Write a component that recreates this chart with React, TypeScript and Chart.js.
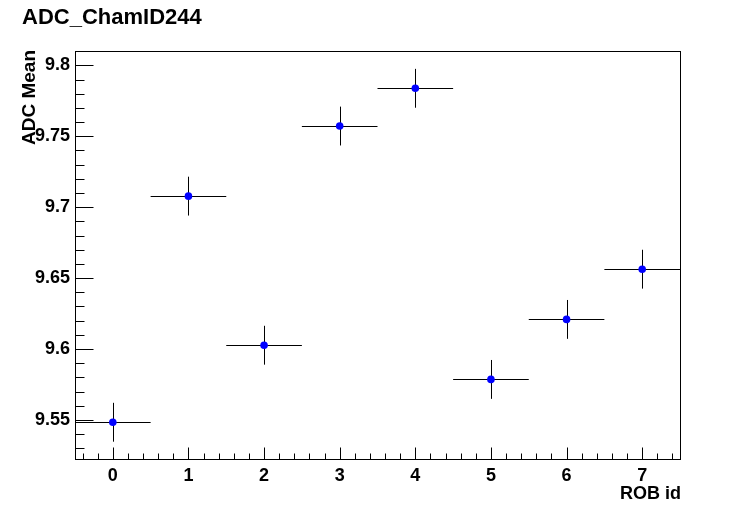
import React, { useEffect, useRef } from 'react';
import { Chart, registerables } from 'chart.js';

Chart.register(...registerables);

// ---- data ----
const robIds = [0, 1, 2, 3, 4, 5, 6, 7];
const adcMean = [9.5484, 9.7078, 9.6027, 9.7572, 9.7838, 9.5786, 9.6209, 9.6563];
const adcErr = [0.0137, 0.0137, 0.0137, 0.0137, 0.0137, 0.0137, 0.0137, 0.0137];
const robHalfWidth = 0.5;

const xTickValues = [0, 1, 2, 3, 4, 5, 6, 7];
const xTickLabels = ['0', '1', '2', '3', '4', '5', '6', '7'];
const yTickValues = [9.55, 9.6, 9.65, 9.7, 9.75, 9.8];
const yTickLabels = ['9.55', '9.6', '9.65', '9.7', '9.75', '9.8'];

const titleText = 'ADC_ChamID244';
const xTitle = 'ROB id';
const yTitle = 'ADC Mean';

const X_MIN = -0.5;
const X_MAX = 7.5;
const Y_MIN = 9.5225;
const Y_MAX = 9.8101;

const FONT = "'Liberation Sans', Arial, Helvetica, sans-serif";

const rootStylePlugin = {
  id: 'rootStyle',
  beforeDatasetsDraw(chart: any) {
    const ctx = chart.ctx;
    const xs = chart.scales.x;
    const ys = chart.scales.y;
    ctx.save();
    ctx.strokeStyle = '#000';
    ctx.lineWidth = 1;
    for (let i = 0; i < robIds.length; i++) {
      const px = Math.round(xs.getPixelForValue(robIds[i])) + 0.5;
      const py = Math.round(ys.getPixelForValue(adcMean[i])) + 0.5;
      const x0 = xs.getPixelForValue(robIds[i] - robHalfWidth);
      const x1 = xs.getPixelForValue(robIds[i] + robHalfWidth);
      const y0 = ys.getPixelForValue(adcMean[i] - adcErr[i]);
      const y1 = ys.getPixelForValue(adcMean[i] + adcErr[i]);
      ctx.beginPath();
      ctx.moveTo(x0, py);
      ctx.lineTo(x1, py);
      ctx.moveTo(px, y0);
      ctx.lineTo(px, y1);
      ctx.stroke();
    }
    ctx.restore();
  },
  afterDraw(chart: any) {
    const ctx = chart.ctx;
    const xs = chart.scales.x;
    const ys = chart.scales.y;
    const a = chart.chartArea;
    ctx.save();
    ctx.strokeStyle = '#000';
    ctx.lineWidth = 1;
    // frame
    ctx.strokeRect(Math.round(a.left) + 0.5, Math.round(a.top) + 0.5, Math.round(a.right - a.left), Math.round(a.bottom - a.top));
    const left = Math.round(a.left) + 0.5;
    const bottom = Math.round(a.bottom) + 0.5;
    ctx.beginPath();
    // y ticks (major + minor), inward
    for (let k = 953; k <= 980; k++) {
      const v = k / 100;
      if (v < Y_MIN || v > Y_MAX) continue;
      const major = k % 5 === 0;
      const py = Math.round(ys.getPixelForValue(v)) + 0.5;
      ctx.moveTo(left, py);
      ctx.lineTo(left + (major ? 18 : 9), py);
    }
    // x ticks (major + minor), inward
    for (let k = -2; k <= 37; k++) {
      const v = k / 5;
      if (v < X_MIN || v > X_MAX) continue;
      const major = k % 5 === 0;
      const px = Math.round(xs.getPixelForValue(v)) + 0.5;
      ctx.moveTo(px, bottom);
      ctx.lineTo(px, bottom - (major ? 12 : 6));
    }
    ctx.stroke();

    ctx.fillStyle = '#000';
    // title
    ctx.font = `bold 22px ${FONT}`;
    ctx.textAlign = 'left';
    ctx.textBaseline = 'alphabetic';
    ctx.fillText(titleText, 22, 24);
    // x title
    ctx.font = `bold 18px ${FONT}`;
    ctx.textAlign = 'right';
    ctx.fillText(xTitle, a.right + 1, 499);
    // y title
    ctx.font = `bold 19px ${FONT}`;
    ctx.translate(35, a.top - 1);
    ctx.rotate(-Math.PI / 2);
    ctx.textAlign = 'right';
    ctx.fillText(yTitle, 0, 0);
    ctx.restore();
  },
};

export default function App() {
  const ref = useRef<HTMLCanvasElement | null>(null);
  useEffect(() => {
    if (!ref.current) return;
    const chart = new Chart(ref.current, {
      type: 'scatter',
      data: {
        datasets: [
          {
            label: yTitle,
            data: robIds.map((x, i) => ({ x, y: adcMean[i] })),
            backgroundColor: '#0000ff',
            borderColor: '#0000ff',
            borderWidth: 0,
            pointRadius: 3.8,
            pointHoverRadius: 3.8,
          },
        ],
      },
      options: {
        animation: false,
        responsive: false,
        devicePixelRatio: 1,
        events: [],
        layout: { padding: { left: 0, top: 51, right: 76, bottom: 0 } },
        plugins: {
          legend: { display: false },
          title: { display: false },
          tooltip: { enabled: false },
        },
        scales: {
          x: {
            type: 'linear',
            min: X_MIN,
            max: X_MAX,
            grid: { display: false, drawTicks: false },
            border: { display: false },
            afterBuildTicks: (s: any) => {
              s.ticks = xTickValues.map((v) => ({ value: v }));
            },
            afterFit: (s: any) => {
              s.height = 52;
            },
            ticks: {
              autoSkip: false,
              maxRotation: 0,
              padding: 6,
              color: '#000',
              font: { family: FONT, size: 18, weight: 'bold' },
              callback: (v: any) => {
                const i = xTickValues.indexOf(Number(v));
                return i >= 0 ? xTickLabels[i] : '';
              },
            },
          },
          y: {
            type: 'linear',
            min: Y_MIN,
            max: Y_MAX,
            grid: { display: false, drawTicks: false },
            border: { display: false },
            afterBuildTicks: (s: any) => {
              s.ticks = yTickValues.map((v) => ({ value: v }));
            },
            afterFit: (s: any) => {
              s.width = 75;
            },
            ticks: {
              autoSkip: false,
              padding: 5,
              color: '#000',
              font: { family: FONT, size: 18, weight: 'bold' },
              callback: (v: any) => {
                const i = yTickValues.findIndex((t) => Math.abs(t - Number(v)) < 1e-9);
                return i >= 0 ? yTickLabels[i] : '';
              },
            },
          },
        },
      },
      plugins: [rootStylePlugin],
    });
    return () => chart.destroy();
  }, []);
  return (
    <div style={{ position: 'absolute', left: 0, top: 0, width: 756, height: 511, background: '#fff' }}>
      <canvas ref={ref} width={756} height={511} style={{ display: 'block' }} />
    </div>
  );
}
